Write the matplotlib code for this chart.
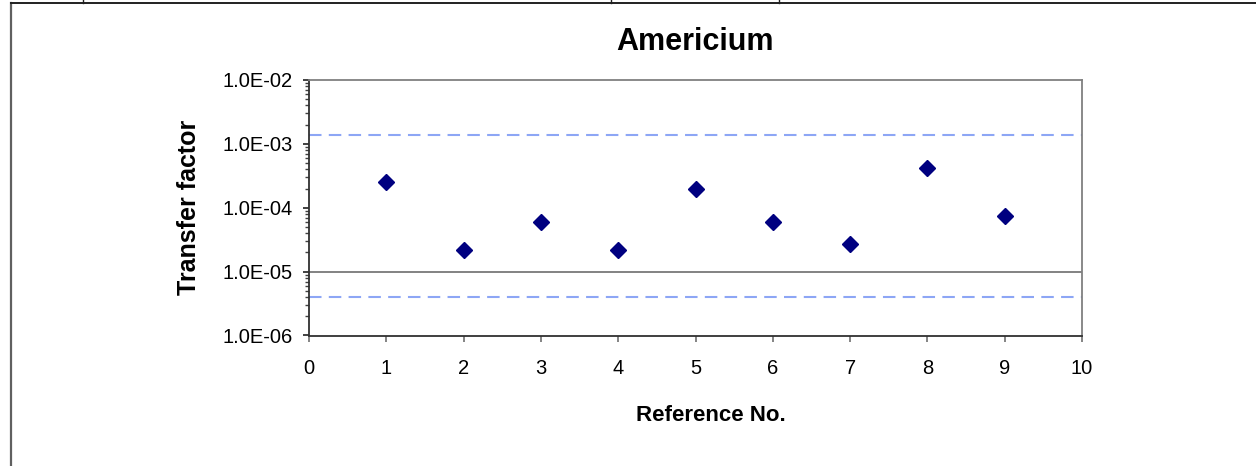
import matplotlib
matplotlib.use("Agg")
import matplotlib.pyplot as plt
from matplotlib.lines import Line2D
from matplotlib.ticker import LogLocator, FuncFormatter, NullFormatter

plt.rcParams['font.family'] = ['Liberation Sans', 'DejaVu Sans']

# data
ref_no = [1, 2, 3, 4, 5, 6, 7, 8, 9]
transfer = [2.5e-4, 2.2e-5, 6.0e-5, 2.2e-5, 2.0e-4, 6.0e-5, 2.7e-5, 4.2e-4, 7.4e-5]
upper_limit = 1.4e-3
lower_limit = 4.0e-6
baseline = 1.0e-5
x_ticks = list(range(0, 11))
y_ticks = [1e-6, 1e-5, 1e-4, 1e-3, 1e-2]

W, H = 1256, 466
fig = plt.figure(figsize=(W / 100, H / 100), dpi=100)
ax = fig.add_axes([309 / W, 1 - 335.5 / H, (1082 - 309) / W, (335.5 - 80) / H])

ax.set_yscale('log')
ax.set_xlim(0, 10)
ax.set_ylim(1e-6, 1e-2)

ax.axhline(upper_limit, color='#8DA6F5', lw=1.5, ls=(0, (6, 3.5)), zorder=1)
ax.axhline(lower_limit, color='#8DA6F5', lw=1.5, ls=(0, (6, 3.5)), zorder=1)
ax.axhline(baseline, color='#606060', lw=1.1, zorder=1)

ax.plot(ref_no, transfer, ls='none', marker='D', ms=8.5, color='#000080', zorder=3)

ax.set_xticks(x_ticks)
ax.set_yticks(y_ticks)
ax.yaxis.set_major_formatter(FuncFormatter(lambda v, p: f"{v:.1E}"))
ax.yaxis.set_minor_locator(LogLocator(base=10, subs=range(2, 10)))
ax.yaxis.set_minor_formatter(NullFormatter())

ax.tick_params(axis='x', direction='out', length=4, width=1.2, color='#707070',
               labelsize=14.5, pad=13)
ax.tick_params(axis='y', which='major', direction='out', length=4.5, width=1.2,
               color='#202020', labelsize=14.5, pad=7)
ax.tick_params(axis='y', which='minor', direction='out', length=2.8, width=1.0,
               color='#404040')

for side in ['top', 'right']:
    ax.spines[side].set_color('#808080')
    ax.spines[side].set_linewidth(1.3)
for side in ['left', 'bottom']:
    ax.spines[side].set_color('#303030')
    ax.spines[side].set_linewidth(1.3)

ax.set_ylabel('Transfer factor', fontsize=18, fontweight='bold')
ax.yaxis.set_label_coords(-0.14, 0.5)
ax.set_xlabel('Reference No.', fontsize=16, fontweight='bold')
ax.xaxis.set_label_coords(0.52, -0.272)

fig.text(695 / W, 1 - 42 / H, 'Americium', fontsize=22, fontweight='bold',
         ha='center', va='center')

# remains of the page frame around the pasted chart
fig.add_artist(Line2D([10.5 / W, 10.5 / W], [0, 1 - 2.5 / H], transform=fig.transFigure,
                      color='#606060', lw=1.6))
fig.add_artist(Line2D([10.5 / W, 1], [1 - 2.5 / H, 1 - 2.5 / H], transform=fig.transFigure,
                      color='#202020', lw=1.4))
for xp in [83, 611, 779]:
    fig.add_artist(Line2D([xp / W, xp / W], [1 - 2.5 / H, 1], transform=fig.transFigure,
                          color='#202020', lw=1.0))

fig.savefig('out.png', dpi=100, facecolor='white')
